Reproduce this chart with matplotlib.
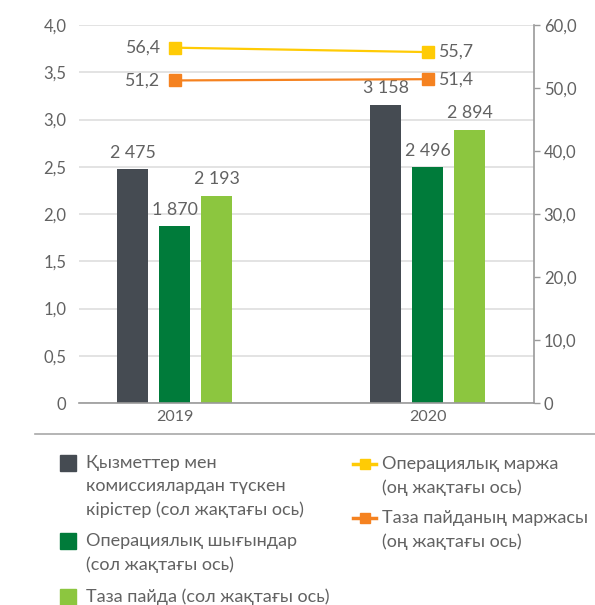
import matplotlib
matplotlib.use("Agg")
import matplotlib.pyplot as plt
from matplotlib.patches import Rectangle
from matplotlib.lines import Line2D
import numpy as np

plt.rcParams['font.family'] = ['Lato', 'DejaVu Sans']

years = ["2019", "2020"]
revenue = [2.475, 3.158]
opex = [1.870, 2.496]
net_profit = [2.193, 2.894]
op_margin = [56.4, 55.7]
net_margin = [51.2, 51.4]

bar_labels = ["Қызметтер мен\nкомиссиялардан түскен\nкірістер (сол жақтағы ось)",
              "Операциялық шығындар\n(сол жақтағы ось)",
              "Таза пайда (сол жақтағы ось)"]
line_labels = ["Операциялық маржа\n(оң жақтағы ось)",
               "Таза пайданың маржасы\n(оң жақтағы ось)"]

left_ticks = [0, 0.5, 1.0, 1.5, 2.0, 2.5, 3.0, 3.5, 4.0]
right_ticks = [0, 10, 20, 30, 40, 50, 60]

c_dark = "#454b52"
c_green = "#007b3a"
c_light = "#8cc63f"
c_yellow = "#ffcb05"
c_orange = "#f58220"
c_text = "#626262"
c_axis = "#9a9a9a"
c_grid = "#e3e3e3"

W, H = 595, 605
fig = plt.figure(figsize=(W / 100, H / 100), dpi=100)
ax = fig.add_axes([79 / W, 1 - 403 / H, 455 / W, 378 / H])
ax2 = ax.twinx()

x = np.arange(len(years))
bw = 0.1225
off = 0.166

def fmt(v):
    s = f"{int(round(v * 1000)):,}".replace(",", " ")
    return s

for vals, dx, col in [(revenue, -off, c_dark), (opex, 0, c_green), (net_profit, off, c_light)]:
    bars = ax.bar(x + dx, vals, width=bw, color=col, zorder=3)
    for b, v in zip(bars, vals):
        ax.annotate(fmt(v), (b.get_x() + b.get_width() / 2, v), xytext=(0, 6),
                    textcoords="offset points", ha="center", va="bottom",
                    fontsize=12.8, color=c_text)

ax.set_xlim(-0.379, 1.419)
ax.set_ylim(0, 4.0)
ax.set_yticks(left_ticks)
ax.set_yticklabels([("0" if t == 0 else f"{t:.1f}".replace(".", ",")) for t in left_ticks])
ax.set_xticks(x)
ax.set_xticklabels(years)
ax.tick_params(axis="y", length=0, labelsize=12, labelcolor=c_text, pad=9)
ax.tick_params(axis="x", length=0, labelsize=11.5, labelcolor=c_text, pad=5)
ax.grid(axis="y", color=c_grid, linewidth=1.4, zorder=0)
ax.set_axisbelow(True)
for s in ["left", "top", "right"]:
    ax.spines[s].set_visible(False)
ax.spines["bottom"].set_color(c_axis)
ax.spines["bottom"].set_linewidth(1.2)
ax.spines["bottom"].set_zorder(4)

ax2.set_ylim(0, 60)
ax2.set_yticks(right_ticks)
ax2.set_yticklabels([("0" if t == 0 else f"{t:.1f}".replace(".", ",")) for t in right_ticks])
ax2.tick_params(axis="y", length=4, width=1, color=c_axis, labelsize=12, labelcolor=c_text, pad=3)
for s in ["left", "top", "bottom"]:
    ax2.spines[s].set_visible(False)
ax2.spines["right"].set_color(c_axis)
ax2.spines["right"].set_linewidth(1.2)

for vals, col in [(op_margin, c_yellow), (net_margin, c_orange)]:
    ax2.plot(x, vals, color=col, linewidth=1.6, marker="s", markersize=8.5, zorder=5)
    for i, v in enumerate(vals):
        lab = f"{v:.1f}".replace(".", ",")
        if i == 0:
            ax2.annotate(lab, (x[i], v), xytext=(-11, 0), textcoords="offset points",
                         ha="right", va="center", fontsize=12.8, color=c_text)
        else:
            ax2.annotate(lab, (x[i], v), xytext=(7, 0), textcoords="offset points",
                         ha="left", va="center", fontsize=12.8, color=c_text)

# separator line
fig.add_artist(Line2D([35 / W, 1.0], [1 - 434 / H] * 2, color="#a8a8a8", linewidth=1.2))

# legend (manual)
def px(xp, yp):
    return xp / W, 1 - yp / H

fs = 13
lh = 23.3
bar_items = [(c_dark, bar_labels[0], 463), (c_green, bar_labels[1], 541), (c_light, bar_labels[2], 597)]
for col, lab, yc in bar_items:
    x0, y0 = px(60, yc + 8)
    fig.add_artist(Rectangle((x0, y0), 16 / W, 16 / H, color=col, transform=fig.transFigure))
    for k, line in enumerate(lab.split("\n")):
        fig.text(*px(86, yc + k * lh), line, fontsize=fs, color=c_text, va="center", ha="left")

line_items = [(c_yellow, line_labels[0], 464), (c_orange, line_labels[1], 518)]
for col, lab, yc in line_items:
    fig.add_artist(Line2D([353 / W, 376 / W], [1 - yc / H] * 2, color=col, linewidth=2.5))
    fig.add_artist(Line2D([364.5 / W], [1 - yc / H], color=col, marker="s", markersize=7.5, linestyle="none"))
    for k, line in enumerate(lab.split("\n")):
        fig.text(*px(382, yc + k * lh), line, fontsize=fs, color=c_text, va="center", ha="left")

fig.savefig("out.png", dpi=100)
